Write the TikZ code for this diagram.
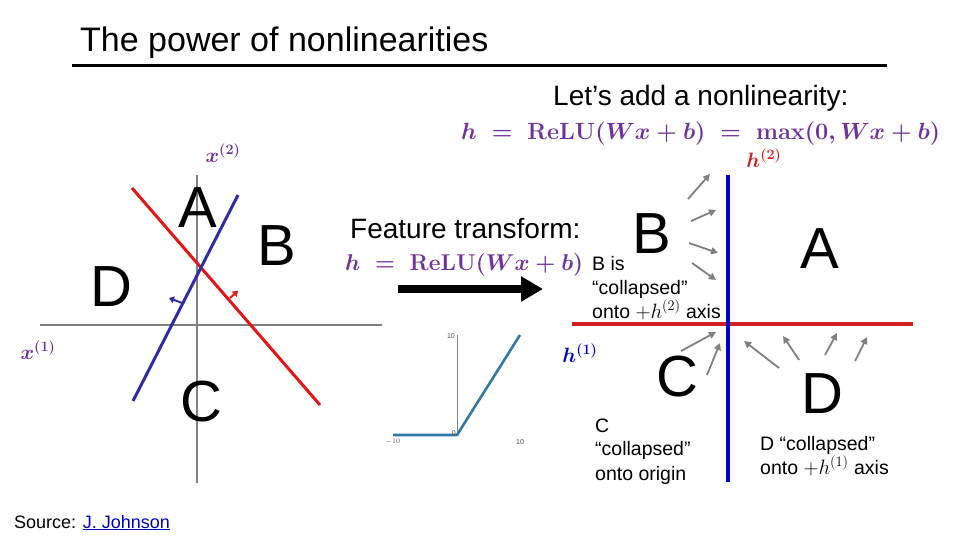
\documentclass[tikz,border=0pt]{standalone}
\usepackage[no-math]{fontspec}
\setmainfont{Liberation Sans}
\usetikzlibrary{arrows.meta}
\definecolor{mpurple}{RGB}{112,48,160}
\definecolor{lred}{RGB}{230,20,20}
\definecolor{lblue}{RGB}{45,45,170}
\definecolor{rblue}{RGB}{0,0,210}
\definecolor{rred}{RGB}{215,30,30}
\definecolor{relu}{RGB}{50,120,170}
\definecolor{axgray}{RGB}{128,128,128}
\definecolor{linkblue}{RGB}{0,0,190}
\begin{document}
\begin{tikzpicture}[x=1pt,y=-1pt,
  big/.style={font=\fontsize{58}{60}\selectfont, inner sep=0pt},
  lbl/.style={font=\fontsize{19.5}{24}\selectfont, inner sep=0pt, anchor=base west},
  axlbl/.style={font=\fontsize{22}{24}\selectfont\boldmath, inner sep=0pt},
  fml/.style={anchor=base west, inner sep=0pt, font=\fontsize{29}{31}\selectfont\boldmath, text=mpurple},
  garrow/.style={draw=axgray, line width=1.8pt, -{Triangle[length=7pt,width=7pt]}},
  tick/.style={font=\fontsize{7}{8}\selectfont, inner sep=1pt, text=black!70}]
\useasboundingbox (0,0) rectangle (960,540);
% title
\node[anchor=base west, inner sep=0pt, font=\fontsize{34}{36}\selectfont] (title) at (80,52) {The power of nonlinearities};
\draw[line width=3pt] (72,66) -- (887,66);
% top right heading
\node[anchor=base west, inner sep=0pt, font=\fontsize{28}{30}\selectfont] (lets) at (553,106) {Let’s add a nonlinearity:};
\node[fml] (form1) at (461,140)
  {\resizebox{479pt}{!}{$h \;=\; \mathrm{ReLU}(Wx+b) \;=\; \max(0,Wx+b)$}};
% left plot
\draw[axgray, line width=2pt] (40,325) -- (382,325);
\draw[axgray, line width=2pt] (197,175) -- (197,483);
\draw[lred, line width=3pt] (132,188) -- (320,405);
\draw[lblue, line width=3pt] (238,195) -- (133,401);
\draw[lred, line width=2pt, -{Triangle[length=5pt,width=7pt]}] (230,298) -- (238,291);
\draw[lblue, line width=2pt, -{Triangle[length=5pt,width=7pt]}] (182,303) -- (169,298);
\node[big] (lA) at (198,208) {A};
\node[big] (lB) at (277,246) {B};
\node[big] (lD) at (111,287) {D};
\node[big] (lC) at (201,402) {C};
\node[axlbl, text=mpurple] (x2) at (223,153) {$x^{(2)}$};
\node[axlbl, text=mpurple] (x1) at (38,350) {$x^{(1)}$};
% middle
\node[anchor=base west, inner sep=0pt, font=\fontsize{28}{30}\selectfont] (feat) at (350,238) {Feature transform:};
\node[fml] (form2) at (345,270) {\resizebox{238pt}{!}{$h \;=\; \mathrm{ReLU}(Wx+b)$}};
\coordinate (arS) at (398,289);
\coordinate (arE) at (543,289);
\draw[line width=8pt, -{Triangle[length=22pt,width=24pt]}] (arS) -- (arE);
% relu plot
\draw[axgray, line width=0.6pt] (457,335) -- (457,435);
\draw[relu, line width=2.6pt, line join=round] (393,435) -- (457,435) -- (520,335);
\node[tick, anchor=east] (t10v) at (456,336) {10};
\node[tick, anchor=east] (t0) at (457,433) {0};
\node[tick] (tm10) at (393,442) {$-10$};
\node[tick] (t10h) at (520,442) {10};
% right plot
\draw[rred, line width=4pt] (572,324) -- (913,324);
\draw[rblue, line width=4pt] (728,175) -- (728,482);
\node[axlbl, text=rred] (h2) at (764,158) {$h^{(2)}$};
\node[axlbl, text=rblue] (h1) at (580,353) {$h^{(1)}$};
\node[big] (rB) at (652,234) {B};
\node[big] (rA) at (820,249) {A};
\node[big] (rC) at (677,377) {C};
\node[big] (rD) at (822,394) {D};
\node[lbl] (b1) at (592,270) {B is};
\node[lbl] (b2) at (592,294) {“collapsed”};
\node[lbl] (b3) at (592,318) {onto $+h^{(2)}$ axis};
\node[lbl] (c1) at (595,432) {C};
\node[lbl] (c2) at (595,455) {“collapsed”};
\node[lbl] (c3) at (595,480) {onto origin};
\node[lbl] (d1) at (760,450) {D “collapsed”};
\node[lbl] (d2) at (760,474) {onto $+h^{(1)}$ axis};
% gray arrows
\foreach \ax/\ay/\bx/\by in {688/199/710/174, 691/221/716/210, 689/243/718/253, 692/263/716/280,
  681/351/716/332, 707/375/720/343, 779/368/744/341, 799/360/783/336, 825/355/837/333, 855/361/867/337}
  \draw[garrow] (\ax,\ay) -- (\bx,\by);
% source
\node[anchor=base west, inner sep=0pt, font=\fontsize{18}{20}\selectfont] (src) at (14,528)
  {Source: \textcolor{linkblue}{\underline{J. Johnson}}};
\end{tikzpicture}
\end{document}
